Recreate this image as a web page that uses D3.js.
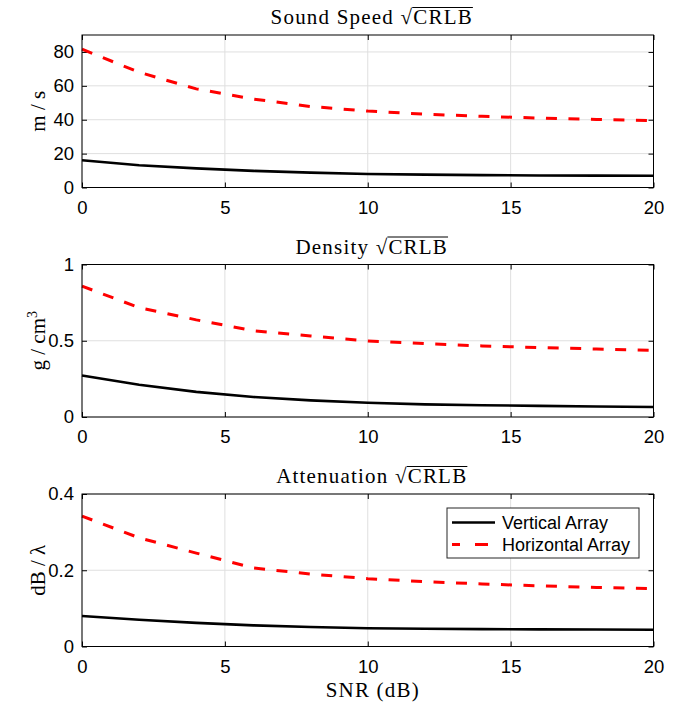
<!DOCTYPE html>
<html>
<head>
<meta charset="utf-8">
<script src="https://cdn.jsdelivr.net/npm/d3@7"></script>
<style>
  body { margin: 0; background: #fff; }
  svg { display: block; }
  .ttl { font-family: "Liberation Serif", "Times New Roman", serif; font-size: 21px; letter-spacing: 1.2px; fill: #000; }
</style>
</head>
<body>
<svg id="chart" width="688" height="709"></svg>
<script>
var snr = [0, 2, 4, 6, 8, 10, 12, 14, 16, 18, 20];

// sound speed (m/s)
var speedVertical   = [16.1, 13.1, 11.3, 9.8, 8.8, 8.0, 7.6, 7.3, 7.1, 7.0, 6.9];
var speedHorizontal = [81.6, 68.0, 58.2, 52.2, 47.8, 45.1, 43.3, 42.0, 41.0, 40.2, 39.5];

// density (g/cm3)
var densVertical   = [0.272, 0.211, 0.165, 0.131, 0.109, 0.093, 0.083, 0.077, 0.073, 0.069, 0.066];
var densHorizontal = [0.858, 0.717, 0.637, 0.566, 0.531, 0.499, 0.481, 0.466, 0.455, 0.446, 0.437];

// attenuation (dB/lambda)
var attVertical   = [0.080, 0.070, 0.062, 0.0555, 0.051, 0.0478, 0.0465, 0.0455, 0.0448, 0.0444, 0.0440];
var attHorizontal = [0.342, 0.285, 0.245, 0.206, 0.190, 0.178, 0.170, 0.164, 0.159, 0.155, 0.152];

var xTicks = [0, 5, 10, 15, 20];
var seriesNames = ["Vertical Array", "Horizontal Array"];

var panels = [
  { title: "Sound Speed", ylab: "m / s", ymax: 90, yticks: [0, 20, 40, 60, 80], fmt: d3.format("d"), v: speedVertical, h: speedHorizontal },
  { title: "Density", ylab: "g / cm", sup: "3", ymax: 1, yticks: [0, 0.5, 1], fmt: d => String(d), v: densVertical, h: densHorizontal },
  { title: "Attenuation", ylab: "dB / λ", ymax: 0.4, yticks: [0, 0.2, 0.4], fmt: d => String(d), v: attVertical, h: attHorizontal }
];

var svg = d3.select("#chart");
var left = 82, right = 653.5, ph = 152.5;
var tops = [35, 264.5, 494];
var sans = "'Liberation Sans', Arial, sans-serif";

var x = d3.scaleLinear().domain([0, 20]).range([left, right]);

panels.forEach((p, i) => {
  var top = tops[i], bottom = top + ph;
  var y = d3.scaleLinear().domain([0, p.ymax]).range([bottom, top]);
  var g = svg.append("g");

  // grid
  g.selectAll(".gx").data(xTicks).join("line")
    .attr("x1", d => x(d)).attr("x2", d => x(d)).attr("y1", top).attr("y2", bottom)
    .attr("stroke", "#dfdfdf").attr("stroke-width", 1);
  g.selectAll(".gy").data(p.yticks).join("line")
    .attr("x1", left).attr("x2", right).attr("y1", d => y(d)).attr("y2", d => y(d))
    .attr("stroke", "#dfdfdf").attr("stroke-width", 1);

  // axes (ticks inside, on all four sides like a boxed matlab axes)
  g.append("g").attr("transform", "translate(0," + bottom + ")")
    .call(d3.axisBottom(x).tickValues(xTicks).tickSizeInner(-5).tickSizeOuter(0).tickPadding(13))
    .call(a => a.select(".domain").remove());
  g.append("g").attr("transform", "translate(0," + top + ")")
    .call(d3.axisTop(x).tickValues(xTicks).tickSizeInner(-5).tickSizeOuter(0).tickFormat(""))
    .call(a => a.select(".domain").remove());
  g.append("g").attr("transform", "translate(" + left + ",0)")
    .call(d3.axisLeft(y).tickValues(p.yticks).tickFormat(p.fmt).tickSizeInner(-5).tickSizeOuter(0).tickPadding(8))
    .call(a => a.select(".domain").remove());
  g.append("g").attr("transform", "translate(" + right + ",0)")
    .call(d3.axisRight(y).tickValues(p.yticks).tickSizeInner(-5).tickSizeOuter(0).tickFormat(""))
    .call(a => a.select(".domain").remove());
  g.selectAll(".tick line").attr("stroke", "#000");
  g.selectAll(".tick text").style("font-family", sans).style("font-size", "18.5px").attr("fill", "#000");

  // lines
  var line = d3.line().x((d, k) => x(snr[k])).y(d => y(d));
  g.append("path").datum(p.h).attr("d", line)
    .attr("fill", "none").attr("stroke", "#ff0000").attr("stroke-width", 3)
    .attr("stroke-dasharray", "11,11.5");
  g.append("path").datum(p.v).attr("d", line)
    .attr("fill", "none").attr("stroke", "#000").attr("stroke-width", 2.6);

  g.append("rect").attr("x", left).attr("y", top).attr("width", right - left).attr("height", ph)
    .attr("fill", "none").attr("stroke", "#000").attr("stroke-width", 1);

  // title with sqrt(CRLB)
  var t = g.append("text").attr("class", "ttl").attr("y", top - 11);
  t.append("tspan").text(p.title + " √");
  var crlb = t.append("tspan").text("CRLB");
  var tw = t.node().getComputedTextLength();
  t.attr("x", (left + right) / 2 - tw / 2 + 4);
  var cb = crlb.node().getBBox();
  g.append("line").attr("x1", cb.x - 1).attr("x2", cb.x + cb.width)
    .attr("y1", cb.y + 2.5).attr("y2", cb.y + 2.5)
    .attr("stroke", "#000").attr("stroke-width", 1);

  // y label
  var yl = g.append("text").attr("class", "ttl")
    .attr("transform", "translate(45," + (top + ph / 2) + ") rotate(-90)")
    .attr("text-anchor", "middle").style("letter-spacing", "0px").text(p.ylab);
  if (p.sup) yl.append("tspan").attr("dy", -8).attr("font-size", 14).text(p.sup);
});

// x label
svg.append("text").attr("class", "ttl")
  .attr("x", (left + right) / 2 + 5).attr("y", 697).attr("text-anchor", "middle").text("SNR (dB)");

// legend
var lg = svg.append("g").attr("transform", "translate(447,508)");
lg.append("rect").attr("width", 192).attr("height", 50).attr("fill", "#fff")
  .attr("stroke", "#262626").attr("stroke-width", 1);
seriesNames.forEach((name, k) => {
  var yy = 14.5 + k * 22;
  lg.append("line").attr("x1", 5).attr("x2", 48).attr("y1", yy).attr("y2", yy)
    .attr("stroke", k ? "#ff0000" : "#000").attr("stroke-width", k ? 3 : 2.6)
    .attr("stroke-dasharray", k ? "8,15,13,10" : null);
  lg.append("text").attr("x", 55).attr("y", yy + 6.5)
    .style("font-family", sans).style("font-size", "18px")
    .text(name);
});
</script>
</body>
</html>
